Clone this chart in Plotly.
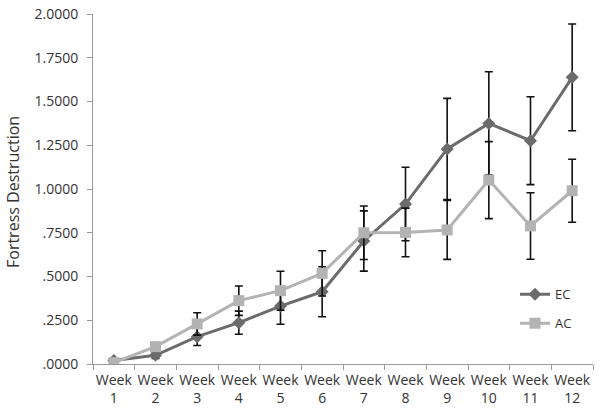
import plotly.graph_objects as go

weeks = ["Week<br>1", "Week<br>2", "Week<br>3", "Week<br>4", "Week<br>5", "Week<br>6",
         "Week<br>7", "Week<br>8", "Week<br>9", "Week<br>10", "Week<br>11", "Week<br>12"]
x_pos = list(range(1, 13))

ec_values = [0.020, 0.050, 0.156, 0.236, 0.331, 0.413, 0.703, 0.914, 1.229, 1.375, 1.276, 1.638]
ec_errors = [0.010, 0.018, 0.050, 0.066, 0.104, 0.143, 0.172, 0.210, 0.289, 0.295, 0.251, 0.305]

ac_values = [0.008, 0.099, 0.229, 0.362, 0.419, 0.518, 0.750, 0.752, 0.766, 1.051, 0.789, 0.990]
ac_errors = [0.008, 0.015, 0.064, 0.084, 0.111, 0.129, 0.153, 0.139, 0.168, 0.220, 0.190, 0.180]

y_ticks = [0, 0.25, 0.5, 0.75, 1.0, 1.25, 1.5, 1.75, 2.0]
y_tick_text = [".0000", ".2500", ".5000", ".7500", "1.0000", "1.2500", "1.5000", "1.7500", "2.0000"]

EC_COLOR = "#6b6b6b"
AC_COLOR = "#b3b3b3"
FONT = "Open Sans"

fig = go.Figure()
fig.add_trace(go.Scatter(
    x=x_pos, y=ec_values, name="EC", mode="lines+markers",
    line=dict(color=EC_COLOR, width=3),
    marker=dict(symbol="diamond", size=10, color=EC_COLOR),
    error_y=dict(type="data", array=ec_errors, visible=True, color="#111111", thickness=1.6, width=4),
    legendgroup="ec",
))
fig.add_trace(go.Scatter(
    x=x_pos, y=ac_values, name="AC", mode="lines+markers",
    line=dict(color=AC_COLOR, width=3),
    marker=dict(symbol="square", size=11, color=AC_COLOR),
    error_y=dict(type="data", array=ac_errors, visible=True, color="#111111", thickness=1.6, width=4),
    legendgroup="ac",
))

fig.add_annotation(
    text="Fortress Destruction", textangle=-90,
    xref="paper", yref="paper", x=-0.161, y=0.49,
    xanchor="center", yanchor="middle", showarrow=False,
    font=dict(family=FONT, size=16, color="#333333"),
)

fig.update_layout(
    width=601, height=418,
    margin=dict(l=93, r=8, t=14, b=54),
    paper_bgcolor="white", plot_bgcolor="white",
    font=dict(family=FONT, size=13, color="#333333"),
    showlegend=True,
    legend=dict(x=0.844, y=0.242, xanchor="left", yanchor="top",
                bgcolor="rgba(0,0,0,0)", font=dict(size=13, color="#333333"),
                tracegroupgap=9, itemwidth=30),
    xaxis=dict(
        range=[0.5, 12.5], tickmode="array", tickvals=x_pos, ticktext=weeks,
        ticks="", showgrid=False, zeroline=False, automargin=False,
        showline=True, linecolor="#9a9a9a", linewidth=1, ticklabeloverflow="allow",
        tickfont=dict(size=14, color="#333333"), ticklabelstandoff=3,
        minor=dict(tickmode="array", tickvals=[i + 0.5 for i in range(0, 13)],
                   ticks="outside", ticklen=5, tickcolor="#9a9a9a", showgrid=False),
    ),
    yaxis=dict(
        range=[0, 2.0], tickmode="array", tickvals=y_ticks, ticktext=y_tick_text,
        ticks="outside", ticklen=5, tickcolor="#9a9a9a", automargin=False,
        showgrid=False, zeroline=False, ticklabelstandoff=6, ticklabeloverflow="allow",
        showline=True, linecolor="#9a9a9a", linewidth=1,
        tickfont=dict(size=14, color="#333333"),
    ),
)

fig.write_html("out.html", config={"displayModeBar": False},
               post_script="document.body.style.margin='0';")
